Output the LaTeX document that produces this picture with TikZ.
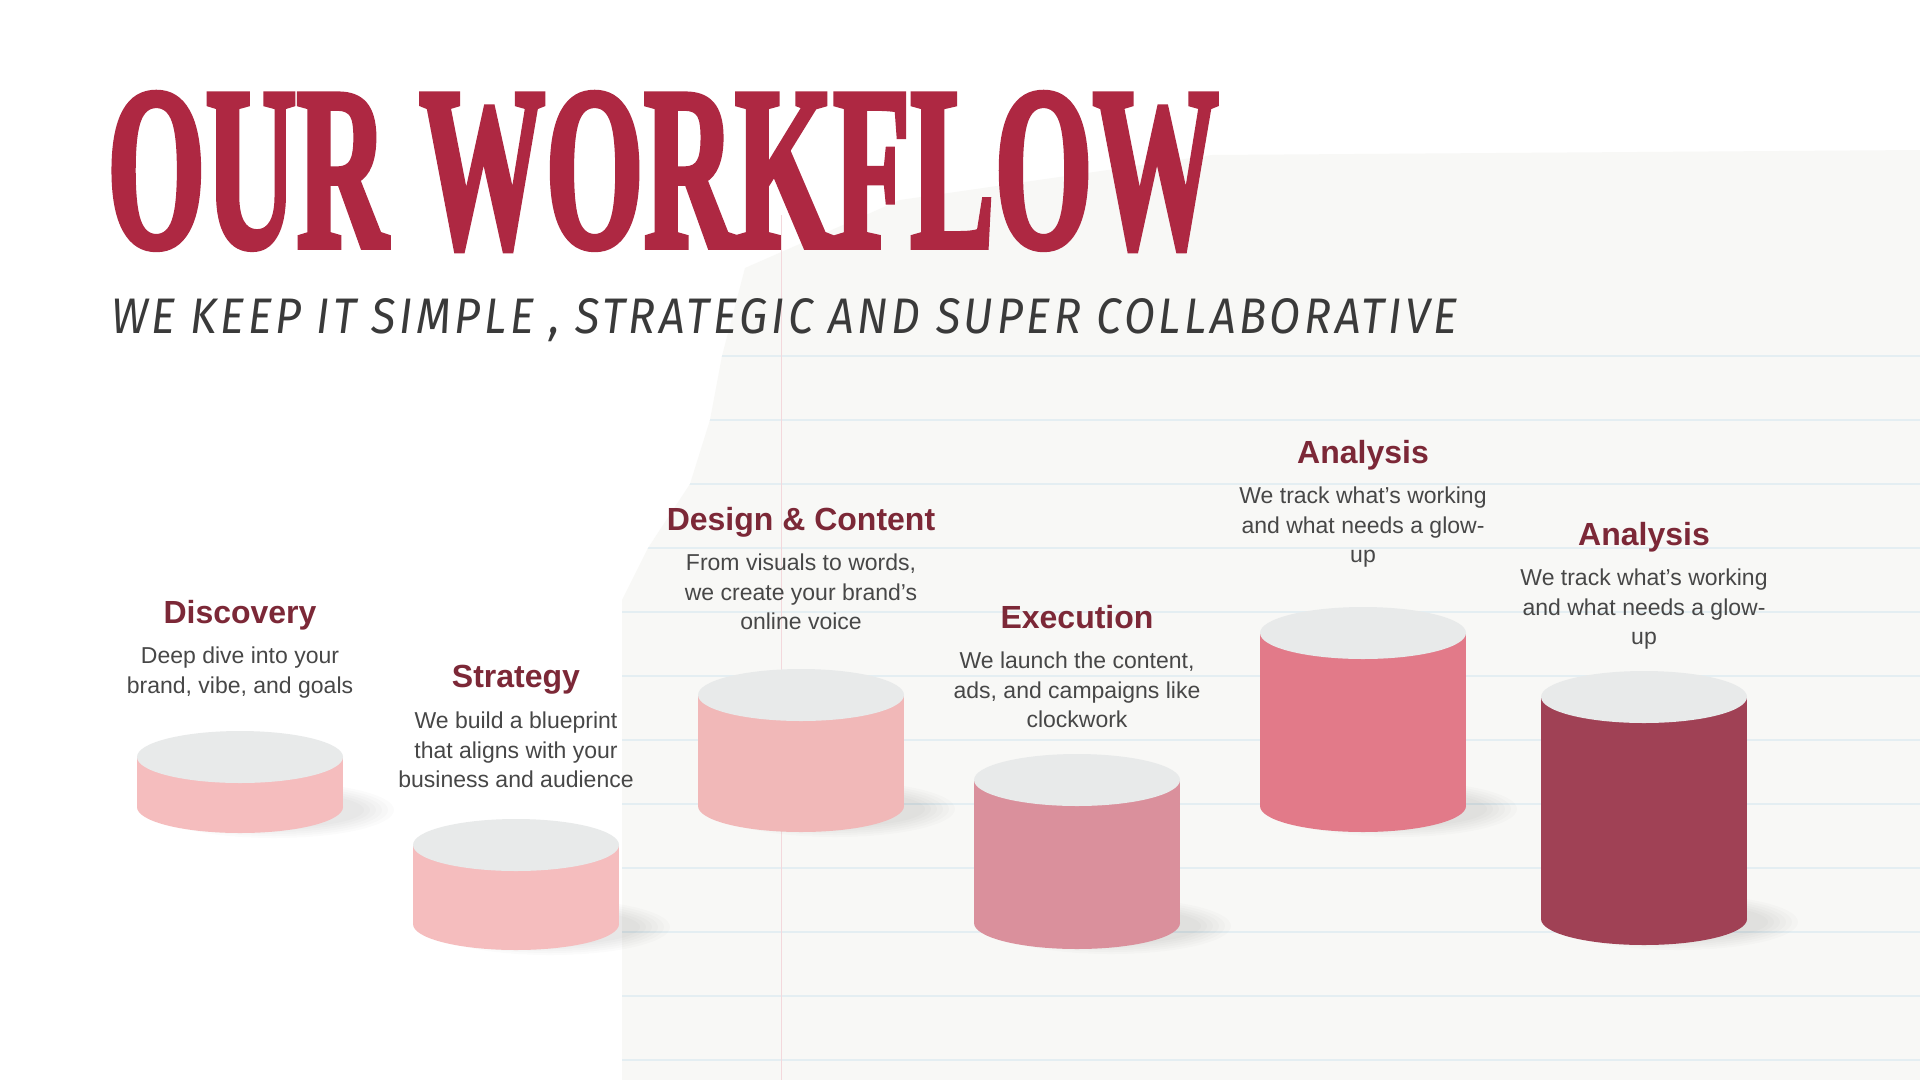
\documentclass[tikz,border=0pt]{standalone}
\usepackage{fontspec}
\setmainfont{Liberation Sans}
\newfontfamily\titlefont{Liberation Serif}[BoldFeatures={FakeBold=3}]
\newfontfamily\subfont{Fira Sans}[LetterSpace=8]
\usetikzlibrary{positioning}

\definecolor{titlered}{HTML}{AE2842}
\definecolor{headred}{HTML}{7C2837}
\definecolor{bodygray}{HTML}{474747}
\definecolor{subgray}{HTML}{3A3A3A}
\definecolor{papel}{HTML}{F8F8F6}
\definecolor{renglon}{HTML}{E4EEF2}
\definecolor{margen}{HTML}{F3D8DC}
\definecolor{tapa}{HTML}{E8EAEA}
\definecolor{rosaA}{HTML}{F5BDBE}
\definecolor{rosaB}{HTML}{F1B8B8}
\definecolor{rosaC}{HTML}{DA909C}
\definecolor{rosaD}{HTML}{E27A89}
\definecolor{vino}{HTML}{A04155}

\tikzset{
    steptitle/.style={
        font=\fontsize{32}{38}\selectfont\bfseries, % titulo de cada paso
        text=headred,             % granate oscuro
        inner sep=0pt,
        anchor=base               % se coloca por la linea base
    },
    steptext/.style={
        font=\fontsize{23}{29.4}\selectfont, % texto corto bajo el titulo
        text=bodygray,
        align=center,             % centrado sobre el cilindro
        inner sep=0pt
    }
}

% cilindro: centro x, y de la tapa, y de la base, color
\newcommand{\podio}[4]{%
    \foreach \k in {1,...,6} {
        \fill[black, opacity=0.016] (#1+34,#3+3) ellipse [x radius=84+6*\k, y radius=16+2*\k];
    }
    \fill[#4] (#1-103,#2) rectangle (#1+103,#3);
    \fill[#4] (#1,#3) ellipse [x radius=103, y radius=26];
    \fill[tapa] (#1,#2) ellipse [x radius=103, y radius=26];
}

\begin{document}
\begin{tikzpicture}[x=1pt,y=-1pt]
    \useasboundingbox (0,0) rectangle (1920,1080);
    \fill[white] (0,0) rectangle (1920,1080);

    % hoja de cuaderno
    \begin{scope}
        \clip (622,1080) -- (622,600) -- (648,548) -- (690,484) -- (710,420) -- (722,356)
            -- (745,268) -- (900,200) -- (1212,155) -- (1920,150) -- (1920,1080) -- cycle;
        \fill[papel] (0,0) rectangle (1920,1080);
        \foreach \y in {356,420,...,1060} {
            \draw[renglon, line width=1.2pt] (600,\y) -- (1920,\y);
        }
    \end{scope}
    \draw[margen, line width=1pt] (781,215) -- (781,1080);

    % cabecera
    \node[anchor=north west, inner sep=0pt, text=titlered] (titulo) at (107,93)
        {\resizebox{1111pt}{153pt}{\titlefont\bfseries OUR WORKFLOW}};
    \node[anchor=north west, inner sep=0pt, text=subgray] (lema) at (111,298)
        {\resizebox{1346pt}{35pt}{\subfont\itshape WE KEEP IT SIMPLE , STRATEGIC AND SUPER COLLABORATIVE}};

    % cilindros
    \podio{240}{757}{807}{rosaA}
    \podio{516}{845}{924}{rosaA}
    \podio{801}{695}{806}{rosaB}
    \podio{1077}{780}{923}{rosaC}
    \podio{1363}{633}{806}{rosaD}
    \podio{1644}{697}{919}{vino}

    % pasos
    \node[steptitle] (disc) at (240,623) {Discovery};
    \node[steptext, below=24pt of disc.base] (disctxt) {Deep dive into your\\brand, vibe, and goals};

    \node[steptitle] (strat) at (516,687) {Strategy};
    \node[steptext, below=25pt of strat.base] (strattxt) {We build a blueprint\\that aligns with your\\business and audience};

    \node[steptitle] (design) at (801,530) {Design \& Content};
    \node[steptext, below=24pt of design.base] (designtxt) {From visuals to words,\\we create your brand’s\\online voice};

    \node[steptitle] (exec) at (1077,628) {Execution};
    \node[steptext, below=24pt of exec.base] (exectxt) {We launch the content,\\ads, and campaigns like\\clockwork};

    \node[steptitle] (anaA) at (1363,463) {Analysis};
    \node[steptext, below=24pt of anaA.base] (anaAtxt) {We track what’s working\\and what needs a glow-\\up};

    \node[steptitle] (anaB) at (1644,545) {Analysis};
    \node[steptext, below=24pt of anaB.base] (anaBtxt) {We track what’s working\\and what needs a glow-\\up};
\end{tikzpicture}
\end{document}
